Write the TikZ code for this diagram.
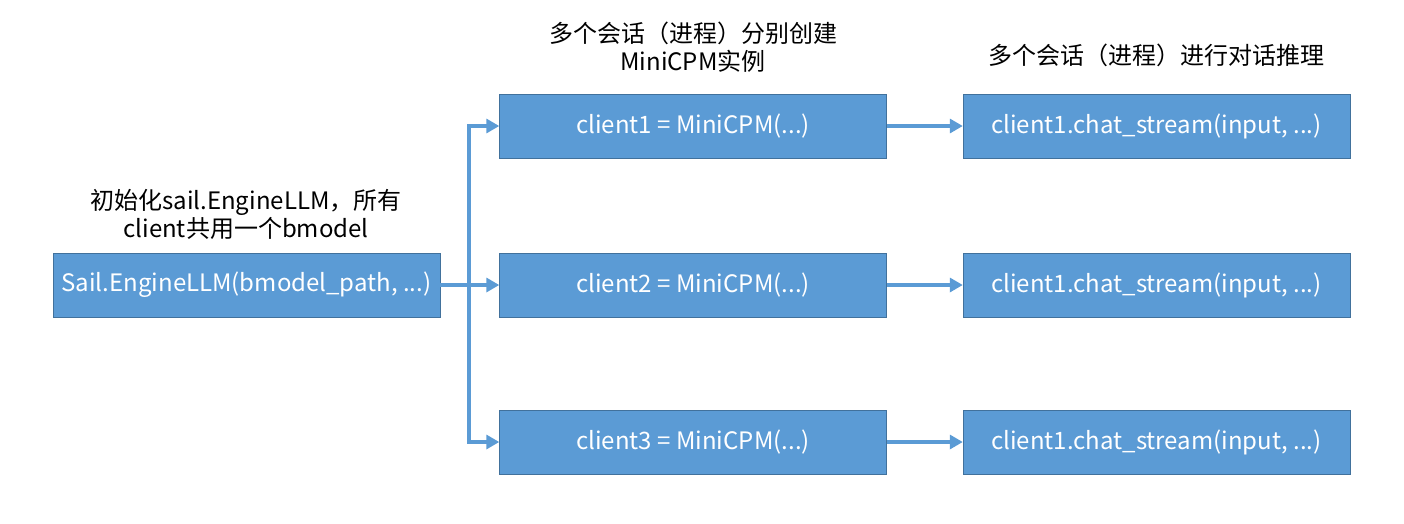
\documentclass[tikz,border=0pt]{standalone}
\usepackage{fontspec}
\setmainfont{Noto Sans CJK SC}
\usepackage{tikz}
\usetikzlibrary{positioning, arrows.meta}
\definecolor{boxblue}{HTML}{5B9BD5}
\definecolor{boxedge}{HTML}{41719C}
\tikzstyle{block} = [rectangle, draw=boxedge, fill=boxblue, text=white, minimum width=387pt, minimum height=64pt, font=\fontsize{24}{28}\selectfont, inner sep=0pt]
\tikzstyle{caption} = [align=center, font=\fontsize{24}{28}\selectfont, inner sep=0pt]
\tikzstyle{arrow} = [boxblue, line width=3.2pt, -{Triangle[length=13pt, width=14pt]}]

\begin{document}
\begin{tikzpicture}[x=1pt, y=-1pt]
                \useasboundingbox (0,0) rectangle (1404,523);
                \node (init) [block] at (246.5,285) {Sail.EngineLLM(bmodel\_path, ...)};
                \node (c1) [block] at (693,126) {client1 = MiniCPM(...)};
                \node (c2) [block] at (693,285) {client2 = MiniCPM(...)};
                \node (c3) [block] at (693,442) {client3 = MiniCPM(...)};
                \node (s1) [block] at (1156.5,126) {client1.chat\_stream(input, ...)};
                \node (s2) [block] at (1156.5,285) {client1.chat\_stream(input, ...)};
                \node (s3) [block] at (1156.5,442) {client1.chat\_stream(input, ...)};

                \node (initlabel) [caption] at (246,214) {初始化sail.EngineLLM，所有\\client共用一个bmodel};
                \node (clientlabel) [caption] at (693,47) {多个会话（进程）分别创建\\MiniCPM实例};
                \node (streamlabel) [caption] at (1156,55) {多个会话（进程）进行对话推理};

                \coordinate (fork) at (469,285);
                \draw [arrow] (init) -- (c2);
                \draw [arrow] (fork) |- (c1);
                \draw [arrow] (fork) |- (c3);
                \draw [arrow] (c1) -- (s1);
                \draw [arrow] (c2) -- (s2);
                \draw [arrow] (c3) -- (s3);
            \end{tikzpicture}
\end{document}
